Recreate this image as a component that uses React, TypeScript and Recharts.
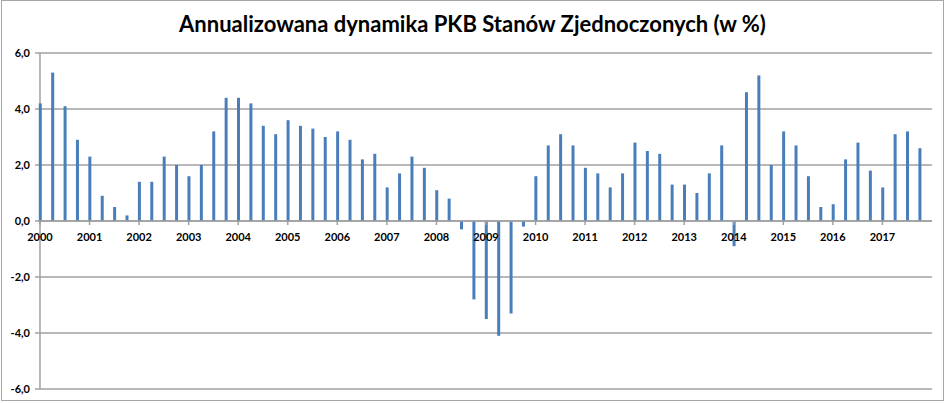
import { Bar, BarChart, CartesianGrid, ReferenceLine, XAxis, YAxis } from "recharts";

const years = [
  2000, 2001, 2002, 2003, 2004, 2005, 2006, 2007, 2008,
  2009, 2010, 2011, 2012, 2013, 2014, 2015, 2016, 2017,
];

// annualised q/q growth, one value per quarter (Q1..Q4)
const growth = [
  4.2, 5.3, 4.1, 2.9,
  2.3, 0.9, 0.5, 0.2,
  1.4, 1.4, 2.3, 2.0,
  1.6, 2.0, 3.2, 4.4,
  4.4, 4.2, 3.4, 3.1,
  3.6, 3.4, 3.3, 3.0,
  3.2, 2.9, 2.2, 2.4,
  1.2, 1.7, 2.3, 1.9,
  1.1, 0.8, -0.3, -2.8,
  -3.5, -4.1, -3.3, -0.2,
  1.6, 2.7, 3.1, 2.7,
  1.9, 1.7, 1.2, 1.7,
  2.8, 2.5, 2.4, 1.3,
  1.3, 1.0, 1.7, 2.7,
  -0.9, 4.6, 5.2, 2.0,
  3.2, 2.7, 1.6, 0.5,
  0.6, 2.2, 2.8, 1.8,
  1.2, 3.1, 3.2, 2.6,
];

const yTicks = [-6, -4, -2, 0, 2, 4, 6];

const data = years.flatMap((year, yi) =>
  [0, 1, 2, 3].map((q) => ({ t: year + q / 4, value: growth[yi * 4 + q] }))
);

const W = 945;
const H = 404;
const PLOT_TOP = 53;
const PLOT_BOTTOM = 389;
const RIGHT = 13;
const Y_AXIS_W = 38;
const Y_MIN = -6;
const Y_MAX = 6;
const ZERO_Y = PLOT_TOP + ((PLOT_BOTTOM - PLOT_TOP) * Y_MAX) / (Y_MAX - Y_MIN);
// small lead-in before 2000 so the first quarter's bar is not clipped by the plot edge
const X_DOMAIN: [number, number] = [1999.96, 2018];
const FONT = "Lato, 'Open Sans', sans-serif";
const GRID = "#a0a0a0";

function axisX(offset: any) {
  const left = offset?.left ?? Y_AXIS_W;
  const width = offset?.width ?? W - Y_AXIS_W - RIGHT;
  return left + ((years[0] - X_DOMAIN[0]) / (X_DOMAIN[1] - X_DOMAIN[0])) * width;
}

function YearTick({ x, payload }: { x?: number; payload?: { value: number } }) {
  return (
    <g>
      <line x1={x} x2={x} y1={ZERO_Y} y2={ZERO_Y + 4} stroke={GRID} strokeWidth={1.5} />
      <text
        x={x}
        y={ZERO_Y + 20}
        textAnchor="middle"
        fontFamily={FONT}
        fontWeight={700}
        fontSize={11}
        fill="#000"
      >
        {payload?.value}
      </text>
    </g>
  );
}

export default function App() {
  return (
    <div
      style={{
        position: "absolute",
        left: 0,
        top: 0,
        width: W,
        height: H,
        background: "#fff",
        fontFamily: FONT,
      }}
    >
      <div
        style={{
          position: "absolute",
          left: 1,
          top: 0,
          width: W - 2,
          height: H - 3,
          border: "1px solid #a6a6a6",
          boxSizing: "border-box",
        }}
      />
      <div
        style={{
          position: "absolute",
          left: 0,
          top: 10,
          width: W,
          textAlign: "center",
          fontWeight: 700,
          fontSize: 22,
          color: "#000",
        }}
      >
        Annualizowana dynamika PKB Stanów Zjednoczonych (w %)
      </div>
      <div style={{ position: "absolute", left: 0, top: 0 }}>
        <BarChart
          width={W}
          height={H}
          data={data}
          margin={{ top: PLOT_TOP, right: RIGHT, left: 0, bottom: 0 }}
        >
          {/* y axis line drawn as a grid line (under the bars) at 2000 */}
          <CartesianGrid
            stroke={GRID}
            strokeWidth={1.5}
            verticalCoordinatesGenerator={({ offset }: any) => [axisX(offset)]}
          />
          <XAxis
            dataKey="t"
            type="number"
            domain={X_DOMAIN}
            ticks={years}
            axisLine={false}
            tickLine={false}
            tick={<YearTick />}
            height={H - PLOT_BOTTOM}
            interval={0}
          />
          <YAxis
            domain={[Y_MIN, Y_MAX]}
            ticks={yTicks}
            width={Y_AXIS_W}
            axisLine={false}
            tickLine={{ stroke: GRID, strokeWidth: 1.5 }}
            tickSize={3}
            tick={{ fontFamily: FONT, fontWeight: 700, fontSize: 11, fill: "#000", dx: -3 }}
            tickFormatter={(v: number) => v.toFixed(1).replace(".", ",")}
          />
          <ReferenceLine y={0} stroke={GRID} strokeWidth={1.5} />
          <Bar dataKey="value" fill="#4a7ebb" barSize={3} isAnimationActive={false} />
        </BarChart>
      </div>
    </div>
  );
}
